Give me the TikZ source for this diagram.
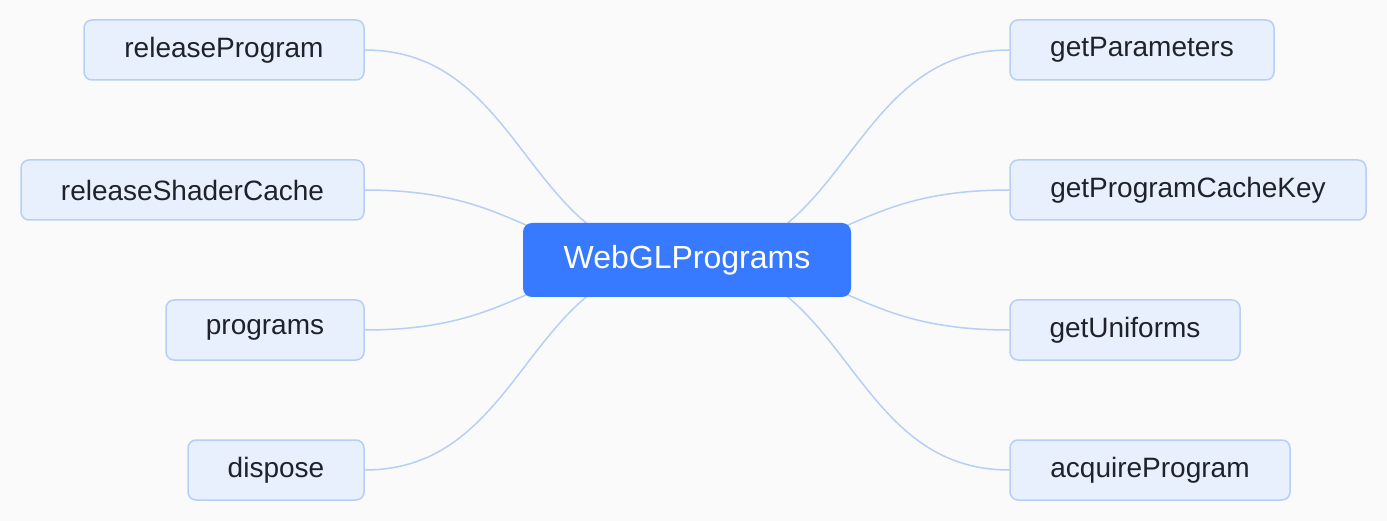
\documentclass[tikz,border=0pt]{standalone}
\usepackage{fontspec}
\setmainfont{Liberation Sans}
\usetikzlibrary{calc}
\definecolor{bg}{HTML}{FAFAFA}
\definecolor{hub}{HTML}{3779FF}
\definecolor{leaffill}{HTML}{E8F0FE}
\definecolor{leafdraw}{HTML}{B8CFF5}
\definecolor{edgec}{HTML}{B8CFF5}
\definecolor{txt}{HTML}{1F2329}
\tikzset{
  leaf/.style={draw=leafdraw, fill=leaffill, line width=1.5pt, rounded corners=8pt,
    minimum height=60pt, inner sep=0pt, text=txt,
    font=\fontsize{28}{32}\selectfont},
  hubbox/.style={fill=hub, rounded corners=9pt, minimum width=328pt, minimum height=74pt,
    inner sep=0pt, text=white, font=\fontsize{32}{36}\selectfont},
  link/.style={draw=edgec, line width=1.5pt}
}
\begin{document}
\begin{tikzpicture}[x=1pt,y=-1pt]
\fill[bg] (0,0) rectangle (1387,521);
\useasboundingbox (0,0) rectangle (1387,521);
% leaves: left
\node[leaf, minimum width=280pt] (rp) at (224,50) {releaseProgram};
\node[leaf, minimum width=343pt] (rsc) at (192.5,190) {releaseShaderCache};
\node[leaf, minimum width=198pt] (pr) at (265,330) {programs};
\node[leaf, minimum width=176pt] (dp) at (276,470) {dispose};
% leaves: right
\node[leaf, minimum width=264pt] (gp) at (1142,50) {getParameters};
\node[leaf, minimum width=356pt] (gpck) at (1188,190) {getProgramCacheKey};
\node[leaf, minimum width=230pt] (gu) at (1125,330) {getUniforms};
\node[leaf, minimum width=280pt] (ap) at (1150,470) {acquireProgram};
% hub anchor
\coordinate (c) at (687,260);
% links
\foreach \k in {rp,rsc,pr,dp}{
  \draw[link] let \p1=(c), \p2=(\k.east) in
    (c) .. controls ({(\x1+\x2)/2},\y1) and ({(\x1+\x2)/2},\y2) .. (\k.east);
}
\foreach \k in {gp,gpck,gu,ap}{
  \draw[link] let \p1=(c), \p2=(\k.west) in
    (c) .. controls ({(\x1+\x2)/2},\y1) and ({(\x1+\x2)/2},\y2) .. (\k.west);
}
\node[hubbox] (hub) at (c) {WebGLPrograms};
\end{tikzpicture}
\end{document}
